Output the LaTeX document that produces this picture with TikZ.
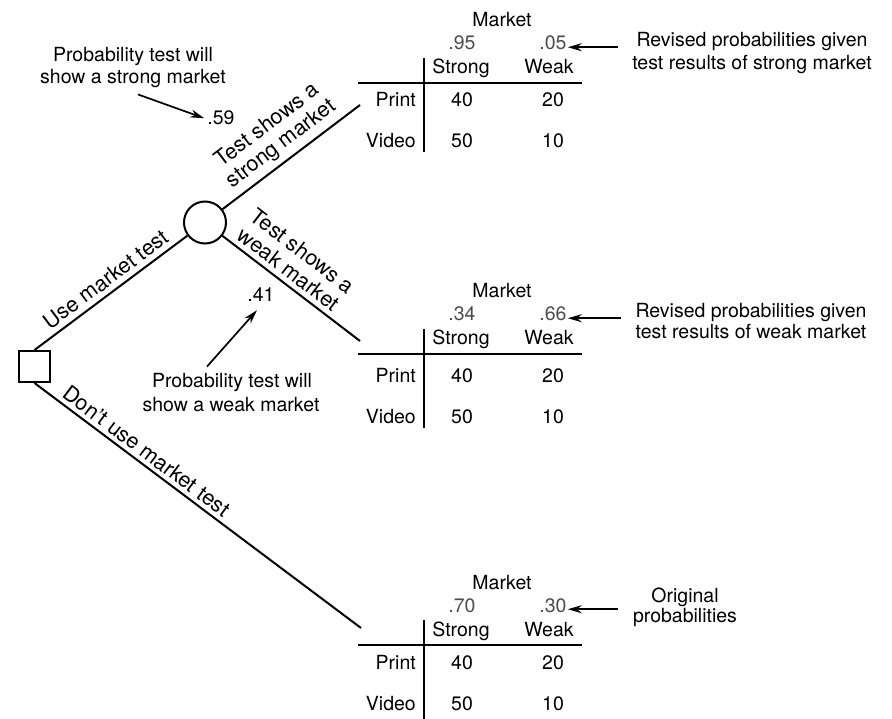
\documentclass[tikz,border=0pt]{standalone}
\usepackage{fontspec}
\setmainfont{TeX Gyre Heros}
\usetikzlibrary{arrows.meta}
\tikzset{
  txt/.style={font=\fontsize{19.5}{22}\selectfont, inner sep=0pt, anchor=base},
  prob/.style={txt, text=black!70},
  branch/.style={line width=2pt},
  tabline/.style={line width=2.6pt},
  ptr/.style={line width=1.7pt, -{Stealth[length=14pt,width=8pt]}},
  lbl/.style={font=\fontsize{21.5}{23}\selectfont, sloped, above, inner sep=5pt, align=center},
  decbox/.style={draw, line width=2pt, minimum size=31pt, inner sep=0pt},
  chance/.style={draw, circle, line width=2pt, minimum size=42pt, inner sep=0pt},
}
% #1 prefix, #2 H (y of rule), #3 p1, #4 p2, #5 Print offset, #6 Video offset, #7 vline bottom offset
\newcommand{\mktable}[7]{%
  \node[txt] (#1mk) at (502,{56-#2}) {Market};
  \node[prob] (#1q1) at (462,{33-#2}) {#3};
  \node[prob] (#1q2) at (553,{33-#2}) {#4};
  \node[txt] (#1s) at (461,{9-#2}) {Strong};
  \node[txt] (#1w) at (549,{9-#2}) {Weak};
  \node[txt, anchor=base east] (#1pr) at (416,{-#2-#5}) {Print};
  \node[txt] (#1a) at (462,{-#2-#5}) {40};
  \node[txt] (#1b) at (553,{-#2-#5}) {20};
  \node[txt, anchor=base east] (#1vi) at (416,{-#2-#6}) {Video};
  \node[txt] (#1c) at (462,{-#2-#6}) {50};
  \node[txt] (#1d) at (553,{-#2-#6}) {10};
  \draw[tabline] (358,{-#2}) -- (582,{-#2});
  \draw[tabline] (424,{25-#2}) -- (424,{-#2-#7});
}
\begin{document}
\begin{tikzpicture}[x=1pt,y=1pt]
\useasboundingbox (0,0) rectangle (892,-719);

% decision tree
\node[decbox] (sq) at (34.5,-366.5) {};
\node[chance] (ci) at (205,-222.5) {};
\coordinate (e1) at (360,-105);
\coordinate (e2) at (360,-341);
\coordinate (e3) at (361,-628);

\draw[branch] (sq.north) -- node[lbl, pos=0.52]{Use market test} (ci);
\draw[branch] (ci) -- node[lbl, pos=0.5]{Test shows a\\strong market} (e1);
\draw[branch] (ci) -- node[lbl, pos=0.42]{Test shows a\\weak market} (e2);
\draw[branch] (sq.south) -- node[lbl, pos=0.32, inner sep=4pt]{Don't use market test} (e3);

% tables
\mktable{t}{83}{.95}{.05}{24}{65}{69}
\mktable{m}{354}{.34}{.66}{28}{69}{74}
\mktable{b}{645}{.70}{.30}{24}{65}{74}

% right annotations
\node[txt] (r1a) at (752,-47) {Revised probabilities given};
\node[txt] (r1b) at (752,-70) {test results of strong market};
\node[txt] (r2a) at (751,-318) {Revised probabilities given};
\node[txt] (r2b) at (751,-339) {test results of weak market};
\node[txt] (r3a) at (685,-602) {Original};
\node[txt] (r3b) at (685,-622) {probabilities};

\draw[ptr] ([xshift=-14pt,yshift=-4pt]tq2.east -| r1b.west) -- ([xshift=1pt,yshift=-4pt]tq2.east);
\draw[ptr] ([xshift=-14pt,yshift=-4pt]mq2.east -| r2b.west) -- ([xshift=1pt,yshift=-4pt]mq2.east);
\draw[ptr] ([xshift=-15pt,yshift=-4pt]bq2.east -| r3b.west) -- ([xshift=1pt,yshift=-4pt]bq2.east);

% left annotations
\node[txt] (l1a) at (133,-62) {Probability test will};
\node[txt] (l1b) at (133,-84) {show a strong market};
\node[txt] (p59) at (221,-125) {.59};
\draw[ptr] ([xshift=5pt,yshift=-6pt]l1b.south) -- ([xshift=-3pt]p59.west);

\node[txt] (p41) at (261,-302) {.41};
\node[txt] (l2a) at (232,-388) {Probability test will};
\node[txt] (l2b) at (231,-411) {show a weak market};
\draw[ptr] ([xshift=-25pt,yshift=7pt]l2a.north) -- ([xshift=-4pt,yshift=-8pt]p41.south);
\end{tikzpicture}
\end{document}
